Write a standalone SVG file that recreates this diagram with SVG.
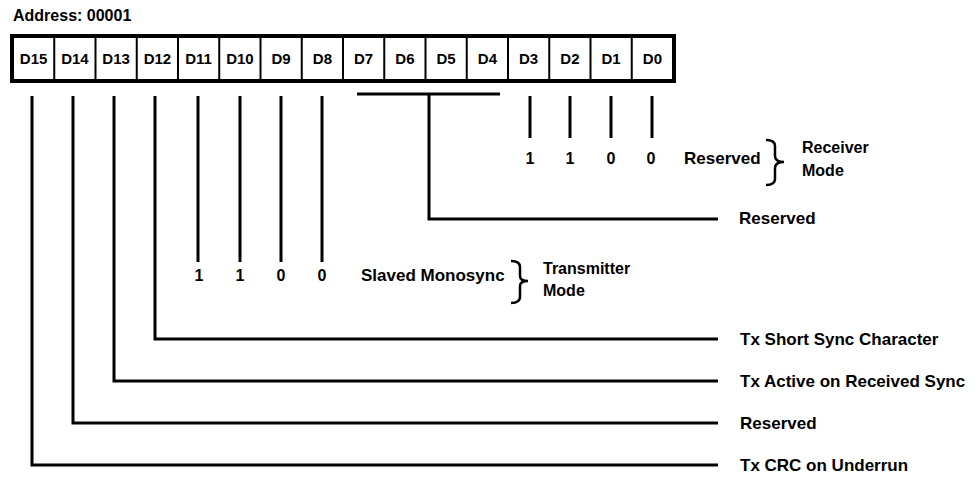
<svg xmlns="http://www.w3.org/2000/svg" width="977" height="480" viewBox="0 0 977 480">
<style>
text{font-family:"Liberation Sans",Arial,sans-serif;font-weight:bold;fill:#000}
.t{font-size:17px}
.s{font-size:16px}
.c{font-size:15px;text-anchor:middle}
.d{font-size:16px;text-anchor:middle}
.ln{stroke:#000;stroke-width:3;fill:none;stroke-linecap:butt;stroke-linejoin:miter}
.br{stroke:#000;stroke-width:2.5;fill:none}
.box{stroke:#000;stroke-width:4;fill:#fff}
.sep{stroke:#000;stroke-width:2}
</style>
<rect width="977" height="480" fill="#fff"/>
<text id="title" class="s" x="13" y="21">Address: 00001</text>
<g id="register">
<rect class="box" x="12" y="36" width="662" height="45"/>
<g class="sep">
<line x1="54.25" y1="36" x2="54.25" y2="81"/>
<line x1="95.5" y1="36" x2="95.5" y2="81"/>
<line x1="136.75" y1="36" x2="136.75" y2="81"/>
<line x1="178" y1="36" x2="178" y2="81"/>
<line x1="219.25" y1="36" x2="219.25" y2="81"/>
<line x1="260.5" y1="36" x2="260.5" y2="81"/>
<line x1="301.75" y1="36" x2="301.75" y2="81"/>
<line x1="343" y1="36" x2="343" y2="81"/>
<line x1="384.25" y1="36" x2="384.25" y2="81"/>
<line x1="425.5" y1="36" x2="425.5" y2="81"/>
<line x1="466.75" y1="36" x2="466.75" y2="81"/>
<line x1="508" y1="36" x2="508" y2="81"/>
<line x1="549.25" y1="36" x2="549.25" y2="81"/>
<line x1="590.5" y1="36" x2="590.5" y2="81"/>
<line x1="631.75" y1="36" x2="631.75" y2="81"/>
</g>
<text class="c" x="33.6" y="64">D15</text>
<text class="c" x="74.9" y="64">D14</text>
<text class="c" x="116.1" y="64">D13</text>
<text class="c" x="157.4" y="64">D12</text>
<text class="c" x="198.6" y="64">D11</text>
<text class="c" x="239.9" y="64">D10</text>
<text class="c" x="281.1" y="64">D9</text>
<text class="c" x="322.4" y="64">D8</text>
<text class="c" x="363.6" y="64">D7</text>
<text class="c" x="404.9" y="64">D6</text>
<text class="c" x="446.1" y="64">D5</text>
<text class="c" x="487.4" y="64">D4</text>
<text class="c" x="528.6" y="64">D3</text>
<text class="c" x="569.9" y="64">D2</text>
<text class="c" x="611.1" y="64">D1</text>
<text class="c" x="652.4" y="64">D0</text>
</g>
<g id="connectors" class="ln">
<polyline points="32,96 32,465 718,465"/>
<polyline points="73,96 73,423 718,423"/>
<polyline points="114,96 114,381 718,381"/>
<polyline points="155,96 155,339 718,339"/>
<line x1="198" y1="96" x2="198" y2="262"/>
<line x1="240" y1="96" x2="240" y2="262"/>
<line x1="281" y1="96" x2="281" y2="262"/>
<line x1="322" y1="96" x2="322" y2="262"/>
<line x1="357" y1="94" x2="500" y2="94"/>
<polyline points="429,94 429,219 718,219"/>
<line x1="530" y1="96" x2="530" y2="138"/>
<line x1="570" y1="96" x2="570" y2="138"/>
<line x1="611" y1="96" x2="611" y2="138"/>
<line x1="652" y1="96" x2="652" y2="138"/>
</g>
<g id="receiver-mode">
<text class="d" x="530" y="164">1</text>
<text class="d" x="570" y="164">1</text>
<text class="d" x="611" y="164">0</text>
<text class="d" x="651" y="164">0</text>
<text class="t" x="684" y="164">Reserved</text>
<path class="br" d="M766,140 C772,140 775,142 775,146 L775,156 C775,159 777,162 784,162 C777,162 775,165 775,168 L775,179 C775,183 772,185 766,185"/>
<text class="s" x="802" y="153">Receiver</text>
<text class="s" x="802" y="176">Mode</text>
</g>
<g id="transmitter-mode">
<text class="d" x="199" y="281">1</text>
<text class="d" x="240" y="281">1</text>
<text class="d" x="281" y="281">0</text>
<text class="d" x="322" y="281">0</text>
<text class="t" x="361" y="281">Slaved Monosync</text>
<path class="br" d="M511,261 C517,261 520,263 520,267 L520,276 C520,279 522,281 528,281 C522,281 520,283 520,286 L520,297 C520,301 517,303 511,303"/>
<text class="s" x="543" y="274">Transmitter</text>
<text class="s" x="543" y="296">Mode</text>
</g>
<g id="labels">
<text id="l-reserved1" class="t" x="739" y="224">Reserved</text>
<text id="l-short" class="t" x="740" y="345">Tx Short Sync Character</text>
<text id="l-active" class="t" x="740" y="387">Tx Active on Received Sync</text>
<text id="l-reserved2" class="t" x="740" y="429">Reserved</text>
<text id="l-crc" class="t" x="740" y="471">Tx CRC on Underrun</text>
</g>
</svg>
